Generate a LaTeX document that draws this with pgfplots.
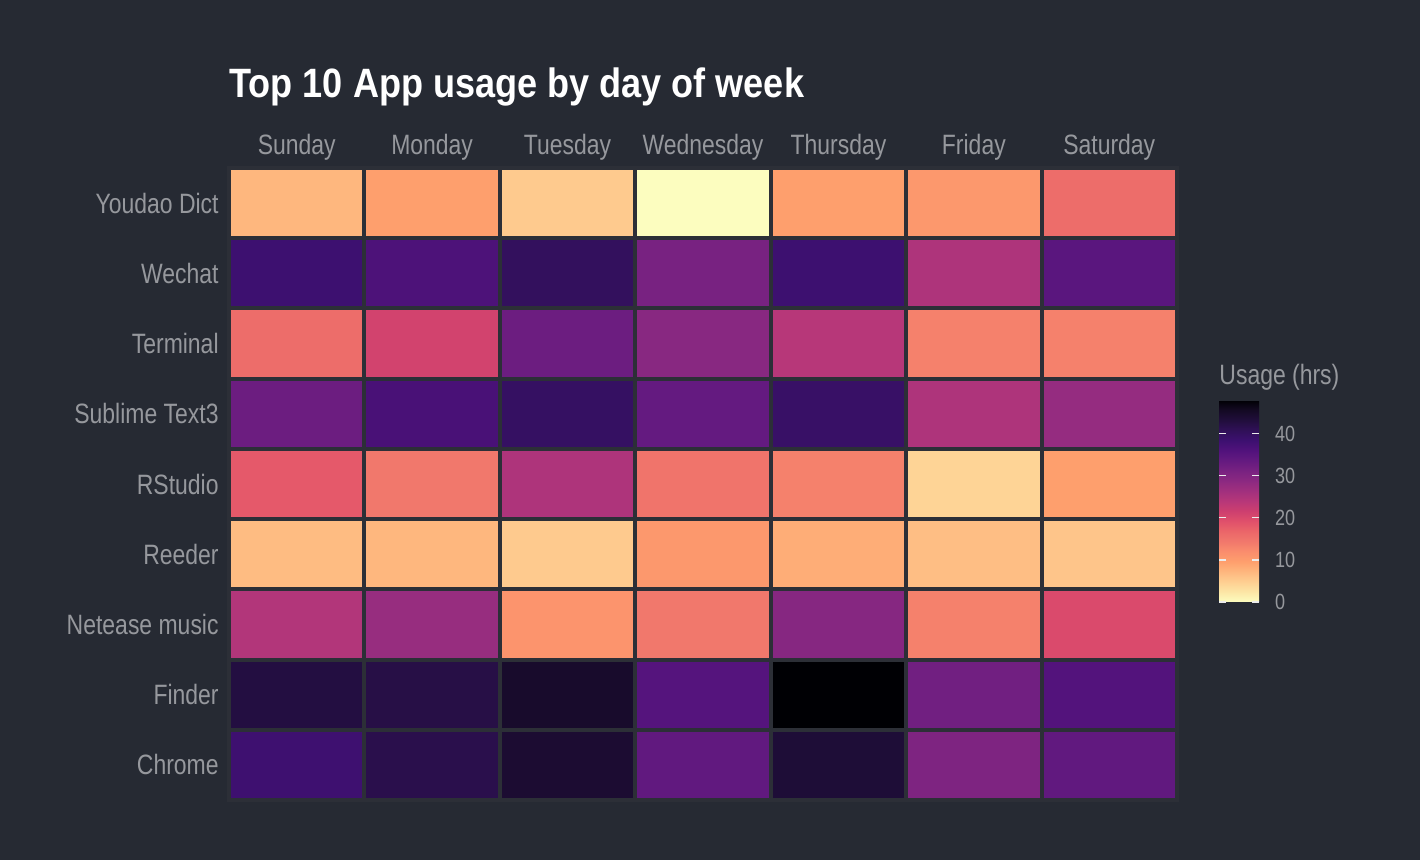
\documentclass[border=0pt]{standalone}
\usepackage{fontspec}
\setmainfont{Liberation Sans}[FakeStretch=0.82, BoldFeatures={FakeStretch=0.88}]
\usepackage{pgfplots}
\usepackage{pgfplotstable}
\pgfplotsset{compat=1.18}
\definecolor{bg}{RGB}{38,42,51}
\definecolor{txt}{RGB}{150,152,157}
\definecolor{cellborder}{RGB}{44,47,55}

\pgfplotstableread{
x y v
0 0 7.2
1 0 9.6
2 0 5.3
3 0 0
4 0 9.6
5 0 10.5
6 0 15.8
0 1 38.4
1 1 36.5
2 1 40.3
3 1 31.2
4 1 38.4
5 1 25
6 1 34.8
0 2 15.8
1 2 21
2 2 32.6
3 2 29.3
4 2 24
5 2 13.4
6 2 13.4
0 3 32.6
1 3 37
2 3 39.8
3 3 33.6
4 3 39.4
5 3 25
6 3 27.8
0 4 18.2
1 4 14.4
2 4 25
3 4 14.9
4 4 13.4
5 4 4.3
6 4 9.6
0 5 6.7
1 5 7.2
2 5 5.3
3 5 10.5
4 5 8.2
5 5 6.5
6 5 5.8
0 6 24.5
1 6 27.5
2 6 11
3 6 14.4
4 6 29.5
5 6 13.4
6 6 20
0 7 42.8
1 7 42.3
2 7 44.8
3 7 35.5
4 7 48
5 7 32
6 7 35.7
0 8 38.3
1 8 41.8
2 8 44.2
3 8 34
4 8 43.7
5 8 30.5
6 8 34
}\usage

\begin{document}
\begin{tikzpicture}[x=1pt,y=1pt]
\fill[bg] (0,0) rectangle (710,430);
\begin{axis}[
  at={(114.5pt,30pt)}, anchor=south west,
  scale only axis, width=474pt, height=316pt,
  xmin=-0.5, xmax=6.5, ymin=-0.5, ymax=8.5,
  y dir=reverse,
  clip=false,
  axis line style={draw=none},
  major tick length=0pt,
  xtick={0,...,6},
  xticklabels={Sunday,Monday,Tuesday,Wednesday,Thursday,Friday,Saturday},
  ytick={0,...,8},
  yticklabels={Youdao Dict,Wechat,Terminal,Sublime Text3,RStudio,Reeder,Netease music,Finder,Chrome},
  xticklabel pos=upper,
  xticklabel style={anchor=base, yshift=7pt, font=\fontsize{14}{16}\selectfont, text=txt},
  yticklabel style={anchor=east, inner sep=0pt, xshift=-5pt, font=\fontsize{14}{16}\selectfont, text=txt},
  title={Top 10 App usage by day of week},
  title style={at={(0,1)}, anchor=base west, inner sep=0pt, yshift=29.5pt, font=\bfseries\fontsize{20.5}{24}\selectfont, text=white},
  colormap={magmar}{rgb255=(252,253,191) rgb255=(252,230,166) rgb255=(254,207,146) rgb255=(254,183,126) rgb255=(254,159,109) rgb255=(250,141,109) rgb255=(241,120,108) rgb255=(235,102,105) rgb255=(224,80,107) rgb255=(205,63,111) rgb255=(183,55,121) rgb255=(161,48,126) rgb255=(140,41,129) rgb255=(120,34,129) rgb255=(100,26,128) rgb255=(81,18,124) rgb255=(61,16,112) rgb255=(48,16,88) rgb255=(33,14,60) rgb255=(20,10,36) rgb255=(0,0,4)},
  point meta min=0, point meta max=48,
  colorbar,
  colorbar/width=20pt,
  colorbar style={
    at={(parent axis.south east)}, anchor=south west,
    xshift=12.5pt, yshift=99pt,
    scale only axis,
    width=20pt, height=101pt,
    ytick={0,10,20,30,40},
    axis line style={draw=none},
    major tick length=3.5pt,
    tick align=inside,
    ytick pos=both,
    yticklabel pos=right,
    /pgf/number format/assume math mode=true,
    yticklabel style={font=\fontsize{11}{13}\selectfont, text=txt, xshift=4.5pt},
    major tick style={draw=white!85!gray, line width=0.6pt},
    title={Usage (hrs)},
    title style={at={(0,1)}, anchor=base west, inner sep=0pt, yshift=1.5pt, font=\fontsize{14}{16}\selectfont, text=txt},
  },
]
\addplot[scatter, only marks, mark=square*, mark size=17.56pt,
  scatter/use mapped color={draw=cellborder, fill=mapped color},
  mark options={xscale=1.9286, line width=2pt},
  point meta=explicit] table[x=x, y=y, meta=v] {\usage};
\end{axis}
\end{tikzpicture}
\end{document}
